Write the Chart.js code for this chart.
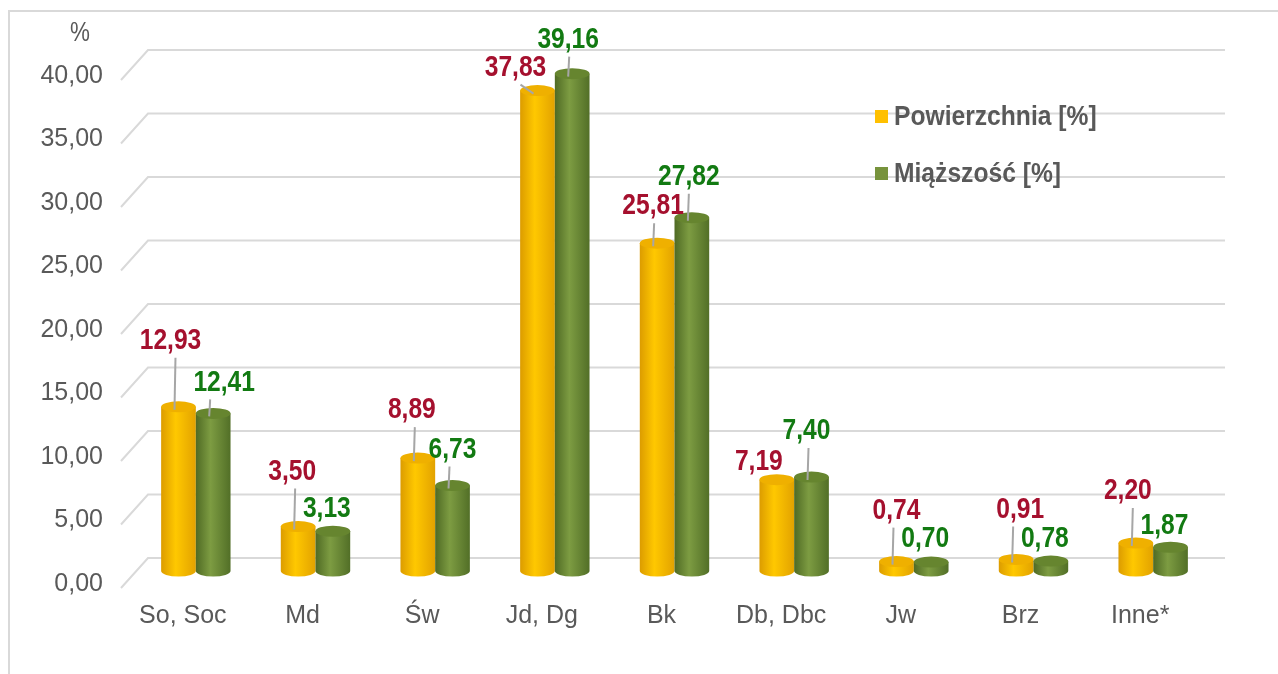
<!DOCTYPE html>
<html>
<head>
<meta charset="utf-8">
<script src="https://cdn.jsdelivr.net/npm/chart.js@4/dist/chart.umd.min.js"></script>
<style>
html,body{margin:0;padding:0;background:#fff;overflow:hidden}
#wrap{position:absolute;left:0;top:0;width:1278px;height:674px}
#ramka{position:absolute;left:8px;top:10px;width:1300px;height:700px;border-left:2px solid #d9d9d9;border-top:2px solid #d9d9d9}
#c{position:absolute;left:0;top:0}
</style>
</head>
<body>
<div id="wrap"><div id="ramka"></div><canvas id="c" width="1278" height="674"></canvas></div>
<script>
// dane
var kategorie = ['So, Soc', 'Md', 'Św', 'Jd, Dg', 'Bk', 'Db, Dbc', 'Jw', 'Brz', 'Inne*'];
var powierzchnia = [12.93, 3.50, 8.89, 37.83, 25.81, 7.19, 0.74, 0.91, 2.20];
var miazszosc = [12.41, 3.13, 6.73, 39.16, 27.82, 7.40, 0.70, 0.78, 1.87];
var serie = ['Powierzchnia [%]', 'Miąższość [%]'];
var osYmin = 0, osYmax = 40, osYkrok = 5;

// przesuniecia etykiet wzgledem wierzcholka walca (reczne jak w excelu)
var etykPowDx = [-8, -6, -6, -22, -4, -18, 0, 4, -8];
var etykPowDy = [-66, -55, -48, -23, -37, -18, -51, -50, -52];
var liniaPow = [1, 1, 1, 1, 1, 0, 1, 1, 1];
var etykMiaDx = [11, -6, 0, -4, -3, -5, -6, -6, -6];
var etykMiaDy = [-31, -23, -36, -34, -41, -46, -23, -22, -22];
var liniaMia = [1, 0, 1, 1, 1, 1, 0, 0, 0];

var FONT = '"Liberation Sans", Arial, sans-serif';
var SZARY = '#595959';
var DX = 25, DY = -30;      // glebokosc sciany
var BDX = 13, BDY = -17;    // polozenie walcow w glebi

function fmt(v){ return v.toFixed(2).replace('.', ','); }

// tekst zwezony (brak fontu Arial Narrow)
function napis(ctx, t, x, y, font, kolor, align, sx, baseline){
	ctx.save();
	ctx.font = font;
	ctx.fillStyle = kolor;
	ctx.textBaseline = baseline || 'middle';
	var w = ctx.measureText(t).width * sx;
	var x0 = align == 'center' ? x - w / 2 : (align == 'right' ? x - w : x);
	ctx.translate(x0, y);
	ctx.scale(sx, 1);
	ctx.textAlign = 'left';
	ctx.fillText(t, 0, 0);
	ctx.restore();
}

var walce = {
	id: 'walce',
	beforeDatasetsDraw: function(chart){
		var ctx = chart.ctx, y = chart.scales.y, x = chart.scales.x, a = chart.chartArea;
		ctx.save();
		ctx.strokeStyle = '#d9d9d9';
		ctx.lineWidth = 2;
		y.ticks.forEach(function(t){
			var py = y.getPixelForValue(t.value);
			ctx.beginPath();
			ctx.moveTo(a.left - 2, py);
			ctx.lineTo(a.left + DX, py + DY);
			ctx.lineTo(a.right + DX, py + DY);
			ctx.stroke();
		});
		ctx.restore();
		// opisy osi
		y.ticks.forEach(function(t){
			napis(ctx, fmt(t.value), a.left - 20, y.getPixelForValue(t.value) - 4, '25px ' + FONT, SZARY, 'right', 1);
		});
		x.ticks.forEach(function(t, i){
			napis(ctx, kategorie[i], x.getPixelForTick(i), 616, '25px ' + FONT, SZARY, 'center', 1);
		});
		napis(ctx, '%', 80, 33, '28px ' + FONT, SZARY, 'center', 0.8);
	},
	afterDatasetsDraw: function(chart){
		var ctx = chart.ctx;
		var kolory = [
			{l: '#dc9c00', m: '#ffc800', r: '#e2a200', top: '#efb000'},
			{l: '#4f6a24', m: '#7d9c42', r: '#526f27', top: '#66852f'}
		];
		chart.data.datasets.forEach(function(ds, di){
			var meta = chart.getDatasetMeta(di);
			var k = kolory[di];
			meta.data.forEach(function(el){
				var p = el.getProps(['x', 'y', 'base', 'width'], true);
				var cx = p.x + BDX, rx = p.width / 2, ry = 5.5;
				var top = p.y + BDY, bot = p.base + BDY;
				var g = ctx.createLinearGradient(cx - rx, 0, cx + rx, 0);
				g.addColorStop(0, k.l);
				g.addColorStop(0.42, k.m);
				g.addColorStop(1, k.r);
				ctx.save();
				ctx.beginPath();
				ctx.moveTo(cx - rx, top);
				ctx.lineTo(cx - rx, bot);
				ctx.ellipse(cx, bot, rx, ry, 0, Math.PI, 0, true);
				ctx.lineTo(cx + rx, top);
				ctx.closePath();
				ctx.fillStyle = g;
				ctx.fill();
				ctx.beginPath();
				ctx.ellipse(cx, top, rx, ry, 0, 0, Math.PI * 2);
				ctx.fillStyle = k.top;
				ctx.fill();
				ctx.restore();
			});
		});

		// etykiety danych z liniami odniesienia
		var ustaw = [
			{dane: powierzchnia, dx: etykPowDx, dy: etykPowDy, linia: liniaPow, kolor: '#a5102e'},
			{dane: miazszosc, dx: etykMiaDx, dy: etykMiaDy, linia: liniaMia, kolor: '#127a12'}
		];
		ustaw.forEach(function(u, di){
			var meta = chart.getDatasetMeta(di);
			meta.data.forEach(function(el, i){
				var p = el.getProps(['x', 'y'], true);
				var bx = p.x + BDX, by = p.y + BDY;
				var lx = bx + u.dx[i], ly = by + u.dy[i];
				if (u.linia[i]) {
					var sx = Math.min(Math.max(bx - 3, lx - 20), lx + 5);
					ctx.save();
					ctx.strokeStyle = '#a6a6a6';
					ctx.lineWidth = 2;
					ctx.beginPath();
					ctx.moveTo(sx, ly + 17);
					ctx.lineTo(bx - 4, by + 3);
					ctx.stroke();
					ctx.restore();
				}
				napis(ctx, fmt(u.dane[i]), lx, ly, 'bold 30px ' + FONT, u.kolor, 'center', 0.82);
			});
		});

		// legenda
		chart.data.datasets.forEach(function(ds, di){
			var bl = 125 + di * 57;
			ctx.fillStyle = ds.kolorLegendy;
			ctx.fillRect(875, bl - 15, 13, 13);
			napis(ctx, ds.label, 894, bl, 'bold 28px ' + FONT, SZARY, 'left', 0.88, 'alphabetic');
		});
	}
};

var ctx = document.getElementById('c').getContext('2d');
window.wykres = new Chart(ctx, {
	type: 'bar',
	data: {
		labels: kategorie,
		datasets: [
			{label: serie[0], data: powierzchnia, backgroundColor: 'rgba(0,0,0,0)', kolorLegendy: '#ffc000'},
			{label: serie[1], data: miazszosc, backgroundColor: 'rgba(0,0,0,0)', kolorLegendy: '#77933c'}
		]
	},
	options: {
		responsive: false,
		animation: false,
		categoryPercentage: 0.58,
		barPercentage: 1.0,
		layout: {padding: {top: 80, right: 78, bottom: 0, left: 0}},
		plugins: {
			legend: {display: false},
			tooltip: {enabled: false}
		},
		scales: {
			x: {
				grid: {display: false, drawTicks: false},
				border: {display: false},
				ticks: {color: 'rgba(0,0,0,0)', font: {family: FONT, size: 25}, maxRotation: 0},
				afterFit: function(s){ s.height = 86; }
			},
			y: {
				min: osYmin, max: osYmax,
				grid: {display: false, drawTicks: false},
				border: {display: false},
				ticks: {stepSize: osYkrok, color: 'rgba(0,0,0,0)', font: {family: FONT, size: 25}},
				afterFit: function(s){ s.width = 123; }
			}
		}
	},
	plugins: [walce]
});
</script>
</body>
</html>
